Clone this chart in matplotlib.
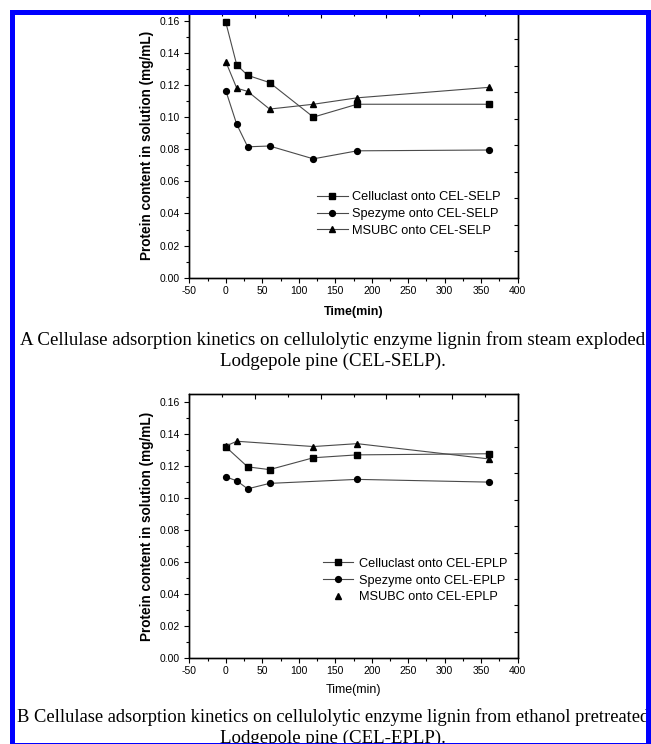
import matplotlib
matplotlib.use("Agg")
import matplotlib.pyplot as plt
from matplotlib.lines import Line2D
from matplotlib.patches import Rectangle
from matplotlib.ticker import MultipleLocator

plt.rcParams['font.family'] = ['Liberation Sans', 'DejaVu Sans']
plt.rcParams['axes.unicode_minus'] = False

# panel A: CEL-SELP
time_a = [0, 15, 30, 60, 120, 180, 360]
celluclast_a = [0.159, 0.1325, 0.126, 0.1215, 0.100, 0.108, 0.108]
spezyme_a = [0.1165, 0.0955, 0.0815, 0.082, 0.074, 0.079, 0.0795]
msubc_a = [0.1345, 0.118, 0.116, 0.105, 0.108, 0.112, 0.1185]

# panel B: CEL-EPLP
time_cell_b = [0, 30, 60, 120, 180, 360]
celluclast_b = [0.132, 0.1195, 0.1178, 0.1252, 0.127, 0.1277]
time_spez_b = [0, 15, 30, 60, 180, 360]
spezyme_b = [0.1133, 0.1108, 0.1058, 0.1092, 0.1117, 0.110]
time_msubc_b = [0, 15, 120, 180, 360]
msubc_b = [0.1325, 0.1355, 0.1322, 0.134, 0.1245]

LINE = '#4a4a4a'
W, H = 651, 744


def style_axes(ax, bold_x, ylab_size):
    ax.set_xlim(-50, 400)
    ax.set_ylim(0, 0.165)
    ax.xaxis.set_major_locator(MultipleLocator(50))
    ax.xaxis.set_minor_locator(MultipleLocator(25))
    ax.yaxis.set_major_locator(MultipleLocator(0.02))
    ax.yaxis.set_minor_locator(MultipleLocator(0.01))
    ax.yaxis.set_major_formatter(plt.FormatStrFormatter('%.2f'))
    ax.tick_params(which='major', direction='out', length=3.6, width=0.8, labelsize=7.5)
    ax.tick_params(which='minor', direction='out', length=2, width=0.8)
    ax.tick_params(axis='x', pad=2.2)
    ax.tick_params(axis='y', pad=3.2)
    for s in ax.spines.values():
        s.set_linewidth(0.9)
    ax.set_xlabel('Time(min)', fontsize=9, fontweight='bold' if bold_x else 'normal')
    ax.set_ylabel('Protein content in solution (mg/mL)', fontsize=ylab_size, fontweight='bold')
    ax.xaxis.label.set_va('center')
    ax.yaxis.label.set_va('center')
    ax.yaxis.set_label_coords(-0.13, 0.5)

    # top and right axes carry their own inward ticks
    axt = ax.twiny()
    axt.set_xlim(0, 1)
    axt.xaxis.set_major_locator(MultipleLocator(0.2))
    axt.xaxis.set_minor_locator(MultipleLocator(0.1))
    axt.tick_params(which='major', direction='in', length=3.5, width=0.8, labeltop=False)
    axt.tick_params(which='minor', direction='in', length=2, width=0.8)
    axr = ax.twinx()
    axr.set_ylim(0, 1)
    axr.yaxis.set_major_locator(MultipleLocator(0.1))
    axr.tick_params(direction='in', length=3, width=0.8, labelright=False)
    for a in (axt, axr):
        for s in a.spines.values():
            s.set_linewidth(0.9)


fig = plt.figure(figsize=(6.51, 7.44), dpi=100)

ax1 = fig.add_axes([189.3 / W, 1 - 277.7 / H, 328.4 / W, 265 / H])
l1, = ax1.plot(time_a, celluclast_a, color=LINE, lw=0.8, marker='s', ms=3.8, mfc='k', mec='k')
l2, = ax1.plot(time_a, spezyme_a, color=LINE, lw=0.8, marker='o', ms=4.2, mfc='k', mec='k')
l3, = ax1.plot(time_a, msubc_a, color=LINE, lw=0.8, marker='^', ms=4.6, mfc='k', mec='k')
ax1.legend([l1, l2, l3], ['Celluclast onto CEL-SELP', 'Spezyme onto CEL-SELP', 'MSUBC onto CEL-SELP'],
           loc='upper left', bbox_to_anchor=(0.389, 0.326), frameon=False, fontsize=9.2,
           handlelength=2.4, handletextpad=0.35, labelspacing=0.37, borderpad=0, borderaxespad=0,
           numpoints=1)
style_axes(ax1, True, 9.8)
ax1.xaxis.set_label_coords(0.5, -0.128)

ax2 = fig.add_axes([189.3 / W, 1 - 658.3 / H, 328.4 / W, 264.3 / H])
m1, = ax2.plot(time_cell_b, celluclast_b, color=LINE, lw=0.8, marker='s', ms=3.8, mfc='k', mec='k')
m2, = ax2.plot(time_spez_b, spezyme_b, color=LINE, lw=0.8, marker='o', ms=4.2, mfc='k', mec='k')
ax2.plot(time_msubc_b, msubc_b, color=LINE, lw=0.8, marker='^', ms=4.6, mfc='k', mec='k')
m3 = Line2D([], [], ls='none', marker='^', ms=4.6, color='k')
ax2.legend([m1, m2, m3], ['Celluclast onto CEL-EPLP', 'Spezyme onto CEL-EPLP', 'MSUBC onto CEL-EPLP'],
           loc='upper left', bbox_to_anchor=(0.406, 0.38), frameon=False, fontsize=9.2,
           handlelength=2.4, handletextpad=0.45, labelspacing=0.37, borderpad=0, borderaxespad=0,
           numpoints=1)
style_axes(ax2, False, 9.8)
ax2.xaxis.set_label_coords(0.5, -0.12)

# captions
serif = ['Liberation Serif', 'DejaVu Serif']
cx = 333 / W
fig.text(cx, 1 - 345 / H, 'A Cellulase adsorption kinetics on cellulolytic enzyme lignin from steam exploded',
         ha='center', va='baseline', family=serif, fontsize=13.6)
fig.text(cx, 1 - 366 / H, 'Lodgepole pine (CEL-SELP).', ha='center', va='baseline', family=serif, fontsize=13.6)
fig.text(cx, 1 - 721.7 / H, 'B Cellulase adsorption kinetics on cellulolytic enzyme lignin from ethanol pretreated',
         ha='center', va='baseline', family=serif, fontsize=13.3)
fig.text(cx, 1 - 742.7 / H, 'Lodgepole pine (CEL-EPLP).', ha='center', va='baseline', family=serif, fontsize=13.6)

# blue frame around the scanned figure
blue = '#0000ff'
for x0, y0, x1, y1 in [(10, 10, W, 15), (10, 10, 15, H), (646, 10, W, H), (10, 742.5, W, H)]:
    fig.add_artist(Rectangle((x0 / W, 1 - y1 / H), (x1 - x0) / W, (y1 - y0) / H,
                             transform=fig.transFigure, color=blue, lw=0, zorder=20))

fig.savefig('out.png', dpi=100)
